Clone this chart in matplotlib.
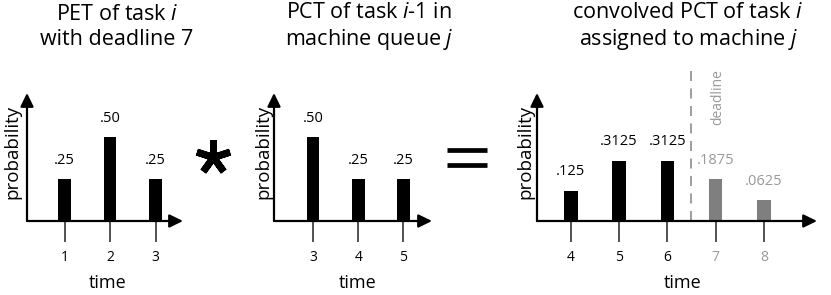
import matplotlib
matplotlib.use("Agg")
import matplotlib.pyplot as plt
from matplotlib.lines import Line2D

plt.rcParams['font.family'] = ['Open Sans', 'DejaVu Sans']
plt.rcParams['mathtext.fontset'] = 'custom'
plt.rcParams['mathtext.rm'] = 'Open Sans'
plt.rcParams['mathtext.it'] = 'Open Sans:italic'

# data
pet_times = [1, 2, 3]
pet_probs = [0.25, 0.50, 0.25]
pet_labels = ['.25', '.50', '.25']

pct_times = [3, 4, 5]
pct_probs = [0.50, 0.25, 0.25]
pct_labels = ['.50', '.25', '.25']

conv_times = [4, 5, 6, 7, 8]
conv_heights = [0.18, 0.36, 0.36, 0.25, 0.125]  # bar heights as drawn (schematic)
conv_labels = ['.125', '.3125', '.3125', '.1875', '.0625']
deadline = 6.5

titles = ['PET of task $\\mathit{i}$\nwith deadline 7',
          'PCT of task $\\mathit{i}$-$\\mathit{1}$ in\nmachine queue $\\mathit{j}$',
          'convolved PCT of task $\\mathit{i}$\nassigned to machine $\\mathit{j}$']

W, H = 831, 295
BLACK = '#000000'
BAR_GRAY = '#7f7f7f'
TXT_GRAY = '#999999'

fig = plt.figure(figsize=(W / 100, H / 100), dpi=100)


def px_axes(left, right, bottom=221, top=93):
    return fig.add_axes([left / W, 1 - bottom / H, (right - left) / W, (bottom - top) / H])


def draw_panel(ax, times, heights, labels, xlim, colors, label_x, ylab_x):
    ax.set_xlim(*xlim)
    ax.set_ylim(0, 128 / 168)
    for s in ax.spines.values():
        s.set_visible(False)
    ax.set_yticks([])
    ax.bar(times, heights, width=0.28, color=colors)
    for t, h, lab, c in zip(times, heights, labels, colors):
        ax.annotate(lab, (t, h), xytext=(0, 11), textcoords='offset points',
                    ha='center', va='baseline', fontsize=10.5,
                    color=BLACK if c == BLACK else TXT_GRAY)
    ax.set_xticks(times)
    ax.set_xticklabels([str(t) for t in times])
    ax.tick_params(axis='x', direction='out', length=15, width=1.1, color='#222222',
                   labelsize=10, pad=6)
    for tick, c in zip(ax.xaxis.get_major_ticks(), colors):
        if c != BLACK:
            tick.tick1line.set_color(TXT_GRAY)
            tick.label1.set_color(TXT_GRAY)
    arrow = dict(arrowstyle='-|>,head_length=0.45,head_width=0.22', lw=1.6,
                 color='k', shrinkA=0, shrinkB=0, mutation_scale=18)
    ax.annotate('', xy=(1, 0), xytext=(0, 0), xycoords='axes fraction', arrowprops=arrow)
    ax.annotate('', xy=(0, 1), xytext=(0, 0), xycoords='axes fraction', arrowprops=arrow)
    ax.set_xlabel('time', fontsize=13, va='center')
    ax.xaxis.set_label_coords(label_x, -62 / 128)
    ax.set_ylabel('probability', fontsize=13.5, ha='center', va='center')
    ax.yaxis.set_label_coords(ylab_x, 0.54)


ax1 = px_axes(27, 183)
draw_panel(ax1, pet_times, pet_probs, pet_labels, (0.176, 3.60), [BLACK] * 3,
           0.52, -14.5 / 156)

ax2 = px_axes(274, 432)
draw_panel(ax2, pct_times, pct_probs, pct_labels, (2.138, 5.63), [BLACK] * 3,
           0.53, -11 / 158)

ax3 = px_axes(537, 817)
conv_colors = [BLACK if t < deadline else BAR_GRAY for t in conv_times]
draw_panel(ax3, conv_times, conv_heights, conv_labels, (3.30, 9.10), conv_colors,
           0.52, -12 / 280)
ax3.plot([deadline, deadline], [0, 151 / 168], ls=(0, (6, 4.5)), lw=1.2,
         color='#8c8c8c', clip_on=False)
ax3.text(deadline + 0.54, 0.735, 'deadline', rotation=90, ha='center', va='center',
         fontsize=10, color=TXT_GRAY)

# titles
for tx, title in zip([117, 369, 688], titles):
    fig.text(tx / W, 1 - 27 / H, title, ha='center', va='center', fontsize=15.5,
             linespacing=1.22, multialignment='center')

# operator symbols between the panels
fig.add_artist(Line2D([212.5 / W], [1 - 156.5 / H], marker=(5, 2, 0), markersize=25,
                      mew=5, color='k', transform=fig.transFigure))
for yy in (150, 165):
    fig.add_artist(Line2D([447 / W, 487 / W], [1 - yy / H] * 2, lw=3.4,
                          solid_capstyle='butt', color='k', transform=fig.transFigure))

fig.savefig('out.png', dpi=100)
